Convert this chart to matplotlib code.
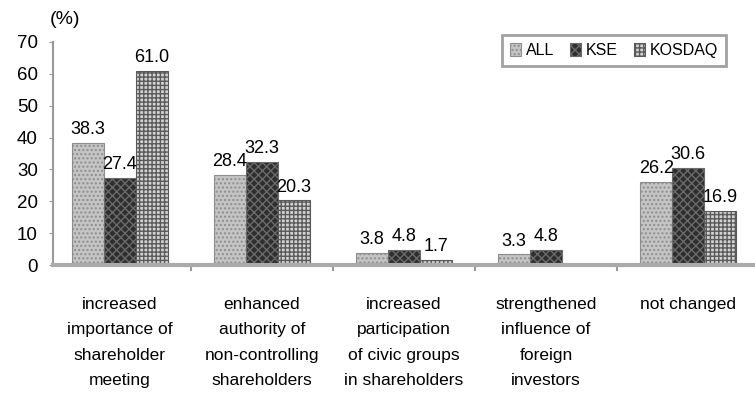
import matplotlib
matplotlib.use("Agg")
import matplotlib.pyplot as plt
import numpy as np

plt.rcParams['font.family'] = ['Liberation Sans', 'DejaVu Sans']

categories = ["increased\nimportance of\nshareholder\nmeeting",
              "enhanced\nauthority of\nnon-controlling\nshareholders",
              "increased\nparticipation\nof civic groups\nin shareholders",
              "strengthened\ninfluence of\nforeign\ninvestors",
              "not changed"]
series_names = ["ALL", "KSE", "KOSDAQ"]
all_vals = [38.3, 28.4, 3.8, 3.3, 26.2]
kse_vals = [27.4, 32.3, 4.8, 4.8, 30.6]
kosdaq_vals = [61.0, 20.3, 1.7, 0.0, 16.9]
yticks = [0, 10, 20, 30, 40, 50, 60, 70]

fig = plt.figure(figsize=(7.55, 3.97), dpi=100)
ax = fig.add_axes([53/755, 1-265/397, 1-53/755, (265-42)/397])

x = np.arange(len(categories))
w = 0.225
styles = [
    dict(facecolor='#c4c4c4', edgecolor='#8e8e8e', hatch='....'),
    dict(facecolor='#2e2e2e', edgecolor='#6a6a6a', hatch='xxxx'),
    dict(facecolor='#d2d2d2', edgecolor='#5a5a5a', hatch='++++'),
]
data = [all_vals, kse_vals, kosdaq_vals]
for i, (name, vals, st) in enumerate(zip(series_names, data, styles)):
    bars = ax.bar(x + (i-1)*w, vals, w, label=name, linewidth=0.8, **st)
    for b, v in zip(bars, vals):
        if v > 0:
            ax.text(b.get_x() + b.get_width()/2, v + 1.5, f"{v:.1f}",
                    ha='center', va='bottom', fontsize=13)

ax.set_xlim(-0.47, 4.47)
ax.set_ylim(0, 70)
ax.set_yticks(yticks)
ax.set_yticklabels([str(t) for t in yticks], fontsize=13.5)
ax.set_xticks(x)
ax.set_xticklabels(categories, fontsize=12.5, linespacing=1.87)
ax.tick_params(axis='x', length=0, pad=23)
ax.tick_params(axis='y', direction='out', length=3, color='#999999', pad=8)
for s in ['top', 'right']:
    ax.spines[s].set_visible(False)
ax.spines['left'].set_color('#999999')
ax.spines['left'].set_linewidth(1.5)
ax.spines['bottom'].set_color('#aaaaaa')
ax.spines['bottom'].set_linewidth(3)

# category boundary ticks
for b in np.arange(0.5, len(categories)-1, 1.0):
    ax.plot([b, b], [0, -1.5], color='#999999', lw=1.5, clip_on=False)

leg = ax.legend(loc='upper right', ncol=3, fontsize=11.5, frameon=True, fancybox=False,
                handlelength=0.7, handleheight=0.8, handletextpad=0.3, columnspacing=1.0,
                borderpad=0.5, borderaxespad=0, edgecolor='#8a8a8a')
leg.get_frame().set_linewidth(2)
leg.set_bbox_to_anchor((726/755, 1-35/397), transform=fig.transFigure)

fig.text(50/755, 1-20/397, "(%)", fontsize=14, ha='left', va='center')

fig.savefig("out.png", dpi=100)
